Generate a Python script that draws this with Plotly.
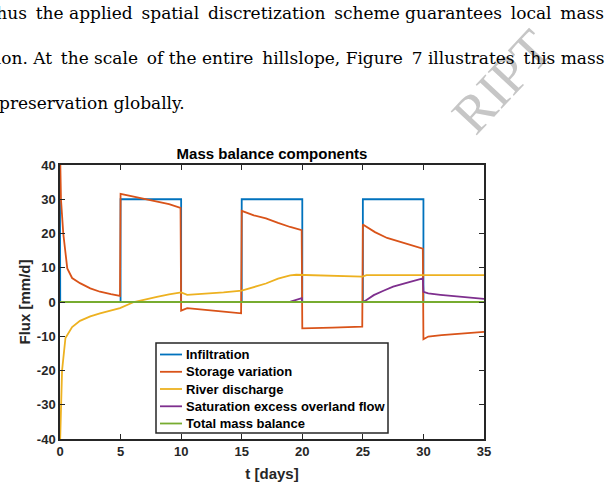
import plotly.graph_objects as go

# ---- data ----
t_inf = [0, 0.02, 5, 5, 10, 10, 15, 15, 20, 20, 25, 25, 30, 30, 35]
v_inf = [30, 0, 0, 30, 30, 0, 0, 30, 30, 0, 0, 30, 30, 0, 0]

t_sto = [0, 0.08, 0.27, 0.6, 1.0, 1.65, 2.5, 3.3, 4.2, 4.95,
         5.0, 6, 7, 8, 9, 9.95,
         10.0, 10.5, 12, 13.5, 14.95,
         15.0, 16, 17, 18, 19, 19.95,
         20.0, 22.5, 24.95,
         25.0, 25.5, 26, 27, 28, 29, 29.95,
         30.0, 30.4, 31.5, 33.6, 35]
v_sto = [45, 30, 20, 9.8, 7.0, 5.5, 4.0, 3.0, 2.3, 1.8,
         31.6, 30.8, 30.0, 29.3, 28.6, 27.5,
         -2.5, -1.8, -2.2, -2.8, -3.3,
         26.6, 25.3, 24.4, 23.1, 21.9, 21.0,
         -7.7, -7.5, -7.2,
         22.6, 21.4, 20.4, 18.7, 17.7, 16.6, 15.6,
         -10.9, -10.1, -9.7, -9.1, -8.7]

t_riv = [0, 0.08, 0.17, 0.45, 1.0, 1.65, 2.5, 3.3, 4.2, 4.95,
         6.1, 7, 8, 9, 10.0,
         10.5, 12, 13.5, 15.0,
         16, 17, 18, 18.5, 19, 19.5, 20,
         22.5, 24.95, 25.3, 30, 35]
v_riv = [-42, -30, -20, -10.5, -7.3, -5.5, -4.2, -3.3, -2.5, -1.8,
         0.0, 0.8, 1.5, 2.2, 2.8,
         2.1, 2.4, 2.8, 3.3,
         4.3, 5.4, 6.8, 7.4, 7.8, 7.95, 7.9,
         7.6, 7.4, 7.85, 7.85, 7.85]

t_sat = [0, 18.9, 19.3, 19.6, 19.95, 20.0, 25.0, 25.3, 25.9, 26.7, 27.5,
         28.9, 29.95, 30.0, 30.4, 31.4, 33.6, 35]
v_sat = [0, 0, 0.4, 0.8, 1.1, 0, 0, 0.6, 2.0, 3.3, 4.5,
         5.9, 6.9, 3.0, 2.5, 2.1, 1.4, 0.9]

t_tot = [0, 35]
v_tot = [0, 0]

names = ["Infiltration", "Storage variation", "River discharge",
         "Saturation excess overland flow", "Total mass balance"]
colors = ["#0072BD", "#D95319", "#EDB120", "#7E2F8E", "#77AC30"]

x_ticks = [0, 5, 10, 15, 20, 25, 30, 35]
y_ticks = [-40, -30, -20, -10, 0, 10, 20, 30, 40]

para_lines = [
    "Thus the applied spatial discretization scheme guarantees local mass",
    "tion. At the scale of the entire hillslope, Figure 7 illustrates this mass",
    "preservation globally.",
]

# ---- figure ----
W, H = 607, 495
L, R, T, B = 60, 123, 165, 56
PW, PH = W - L - R, H - T - B


def px2paper(px, py):
    return (px - L) / PW, (H - B - py) / PH


def justify(line, n_extra):
    """spread n_extra thin spaces evenly over the word gaps (justified look)"""
    words = line.split(" ")
    n_gaps = len(words) - 1
    chosen = {int(round((i + 0.5) * n_gaps / n_extra - 0.5)) for i in range(n_extra)}
    out = words[0]
    for g, w in enumerate(words[1:]):
        out += (" \u2009" if g in chosen else " ") + w
    return out


fig = go.Figure()
series = [(t_inf, v_inf), (t_sto, v_sto), (t_riv, v_riv), (t_sat, v_sat), (t_tot, v_tot)]
for (tt, vv), nm, c in zip(series, names, colors):
    fig.add_trace(go.Scatter(x=tt, y=vv, mode="lines", name=nm, showlegend=False,
                             line=dict(color=c, width=1.8)))

SANS = "Liberation Sans, Arial"
axis_font = dict(family=SANS, size=13, color="#262626", weight="bold")
title_font = dict(family=SANS, size=15, color="#262626", weight="bold")
common = dict(showgrid=False, zeroline=False, showline=True, linecolor="#262626",
              linewidth=1.5, mirror="ticks", ticks="inside", ticklen=5, tickwidth=1.3,
              tickcolor="#262626", tickfont=axis_font)

fig.update_xaxes(range=[0, 35], tickvals=x_ticks, ticktext=[str(v) for v in x_ticks],
                 title=dict(text="t [days]", standoff=10, font=title_font), **common)
fig.update_yaxes(range=[-40, 40], tickvals=y_ticks, ticktext=[str(v) for v in y_ticks],
                 title=dict(text="Flux [mm/d]", standoff=3, font=title_font), **common)

fig.update_layout(
    width=W, height=H, autosize=False,
    margin=dict(l=L, r=R, t=T, b=B, pad=0),
    paper_bgcolor="white", plot_bgcolor="white",
    title=dict(text="Mass balance components", x=px2paper(272, 0)[0], xref="paper",
               xanchor="center", y=1 - 154 / H, yref="container", yanchor="middle",
               font=dict(family=SANS, size=15, color="#000000", weight="bold")),
    showlegend=False,
)

# watermark fragment visible above the figure (drawn first, under the text)
wx, wy = px2paper(502, 82)
fig.add_annotation(text="RIPT", x=wx, y=wy, xref="paper", yref="paper",
                   xanchor="center", yanchor="middle", showarrow=False, textangle=-47,
                   font=dict(family="Liberation Serif, Times New Roman", size=54,
                             color="#c6c6c6"))

# ---- legend box (drawn manually to match the reference geometry) ----
bx0, by0 = px2paper(156, 343)
bx1, by1 = px2paper(388, 433)
fig.add_shape(type="rect", xref="paper", yref="paper", x0=bx0, y0=by1, x1=bx1, y1=by0,
              line=dict(color="#262626", width=1.5), fillcolor="white", layer="above")
row_y = [354.5, 371.8, 389, 406.3, 423.5]
for nm, c, ry in zip(names, colors, row_y):
    sx0, sy = px2paper(160, ry)
    sx1, _ = px2paper(182, ry)
    fig.add_shape(type="line", xref="paper", yref="paper", x0=sx0, x1=sx1, y0=sy, y1=sy,
                  line=dict(color=c, width=1.8), layer="above")
    tx, _ = px2paper(183.5, ry)
    fig.add_annotation(text=nm, x=tx, y=sy, xref="paper", yref="paper",
                       xanchor="left", yanchor="middle", showarrow=False,
                       font=dict(family=SANS, size=13, color="#000000", weight="bold"))

# ---- paragraph text above the figure ----
serif = dict(family="DejaVu Serif", size=17, color="#000000")
x1, y1 = px2paper(606, 13.3)
x2, y2 = px2paper(606, 58.3)
x3, y3 = px2paper(-3, 102.5)
fig.add_annotation(text=justify(para_lines[0], 6), x=x1, y=y1, xref="paper", yref="paper",
                   xanchor="right", yanchor="middle", showarrow=False, font=serif)
fig.add_annotation(text=justify(para_lines[1], 5), x=x2, y=y2, xref="paper", yref="paper",
                   xanchor="right", yanchor="middle", showarrow=False, font=serif)
fig.add_annotation(text=para_lines[2], x=x3, y=y3, xref="paper", yref="paper",
                   xanchor="left", yanchor="middle", showarrow=False, font=serif)

fig.write_html("out.html")
